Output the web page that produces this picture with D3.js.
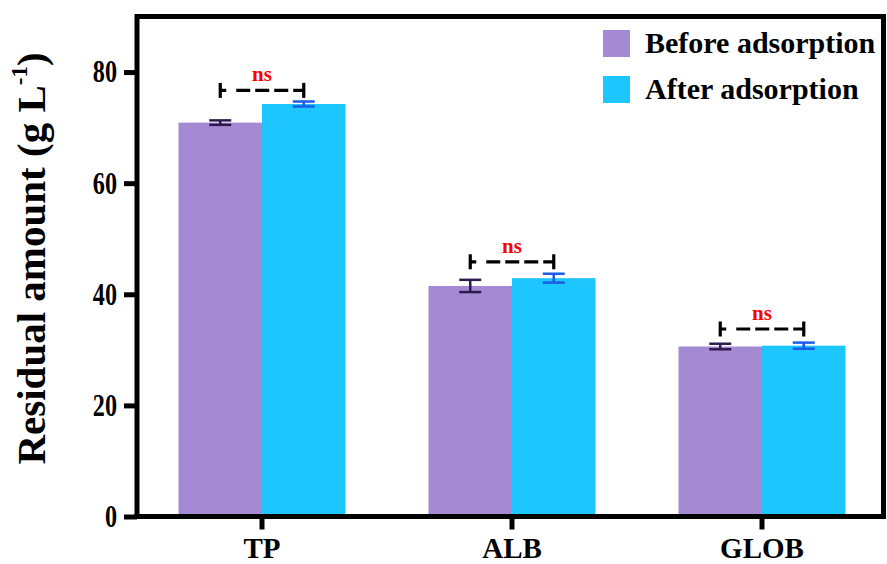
<!DOCTYPE html>
<html>
<head>
<meta charset="utf-8">
<script src="https://cdn.jsdelivr.net/npm/d3@7"></script>
<style>
  html, body { margin: 0; padding: 0; background: #fff; }
  svg { display: block; }
  svg text { font-family: "Liberation Serif", "Times New Roman", serif; }
</style>
</head>
<body>
<svg id="chart" width="887" height="564"></svg>
<script>
// Residual protein amounts before/after adsorption
const categories = ["TP", "ALB", "GLOB"];
const seriesNames = ["Before adsorption", "After adsorption"];
const beforeValues = [70.9, 41.5, 30.6];
const beforeErrors = [0.4, 1.1, 0.5];
const afterValues = [74.25, 42.9, 30.75];
const afterErrors = [0.45, 0.8, 0.55];
const yTicks = [0, 20, 40, 60, 80];
const sigLabels = ["ns", "ns", "ns"];
const sigLevels = [76.7, 45.85, 33.75];

const fills = ["#A48AD2", "#1DC6FE"];
const errColors = ["#2D1B4E", "#1A5CE8"];

const svg = d3.select("#chart");
const plotLeft = 137, plotRight = 887, plotTop = 16.5, plotBottom = 516.5;
const frameRight = 883.5;

const x = d3.scaleBand().domain(categories).range([plotLeft, plotRight])
  .paddingInner(0.332).paddingOuter(0.166);
const sub = d3.scaleBand().domain(seriesNames).range([0, x.bandwidth()]);
const y = d3.scaleLinear().domain([0, 90]).range([plotBottom, plotTop]);

const series = [
  { name: seriesNames[0], values: beforeValues, errors: beforeErrors },
  { name: seriesNames[1], values: afterValues, errors: afterErrors }
];

// bars
series.forEach((s, si) => {
  svg.append("g").selectAll("rect").data(categories).join("rect")
    .attr("x", c => x(c) + sub(s.name))
    .attr("y", (c, i) => y(s.values[i]))
    .attr("width", sub.bandwidth())
    .attr("height", (c, i) => y(0) - y(s.values[i]))
    .attr("fill", fills[si]);
});

// error bars
series.forEach((s, si) => {
  const g = svg.append("g").attr("stroke", errColors[si]).attr("stroke-width", 2.5);
  categories.forEach((c, i) => {
    const cx = x(c) + sub(s.name) + sub.bandwidth() / 2;
    const hi = y(s.values[i] + s.errors[i]), lo = y(s.values[i] - s.errors[i]);
    g.append("line").attr("x1", cx).attr("x2", cx).attr("y1", hi).attr("y2", lo);
    g.append("line").attr("x1", cx - 11).attr("x2", cx + 11).attr("y1", hi).attr("y2", hi);
    g.append("line").attr("x1", cx - 11).attr("x2", cx + 11).attr("y1", lo).attr("y2", lo);
  });
});

// significance brackets
categories.forEach((c, i) => {
  const x1 = x(c) + sub(seriesNames[0]) + sub.bandwidth() / 2;
  const x2 = x(c) + sub(seriesNames[1]) + sub.bandwidth() / 2;
  const yy = y(sigLevels[i]);
  const g = svg.append("g").attr("stroke", "#000").attr("stroke-width", 3.2);
  g.append("line").attr("x1", x1).attr("x2", x2).attr("y1", yy).attr("y2", yy)
    .attr("stroke-dasharray", "6,10,14,5,14,5,14,5,14");
  [x1, x2].forEach(xx => g.append("line").attr("x1", xx).attr("x2", xx)
    .attr("y1", yy - 7.5).attr("y2", yy + 7.5));
  svg.append("text").attr("x", (x1 + x2) / 2).attr("y", yy - 9)
    .attr("text-anchor", "middle").attr("fill", "#FF0000")
    .attr("font-weight", "bold").attr("font-size", 21).text(sigLabels[i]);
});

// frame (top and right)
svg.append("path")
  .attr("d", `M${plotLeft},${plotTop}H${frameRight}V${plotBottom}`)
  .attr("fill", "none").attr("stroke", "#000").attr("stroke-width", 5);

// y axis (labels slightly condensed)
const yLabelScale = 0.78;
const yAxis = svg.append("g").attr("transform", `translate(${plotLeft},0)`)
  .call(d3.axisLeft(y).tickValues(yTicks).tickSize(13).tickPadding(7).tickFormat(d3.format("d")));
yAxis.attr("font-family", null);
yAxis.select(".domain").attr("stroke-width", 5).attr("d", `M0,${plotTop - 2.5}V${plotBottom + 2.5}`);
yAxis.selectAll(".tick line").attr("stroke-width", 5);
yAxis.selectAll(".tick text").attr("font-size", 31).attr("font-weight", "bold").attr("fill", "#000")
  .attr("x", -20 / yLabelScale).attr("transform", `scale(${yLabelScale},1)`);

// x axis
const xAxis = svg.append("g").attr("transform", `translate(0,${plotBottom})`)
  .call(d3.axisBottom(x).tickSize(13).tickPadding(8));
xAxis.attr("font-family", null);
xAxis.select(".domain").attr("stroke-width", 5).attr("d", `M${plotLeft - 2.5},0H${frameRight + 2.5}`);
xAxis.selectAll(".tick line").attr("stroke-width", 5);
xAxis.selectAll(".tick text").attr("font-size", 29).attr("font-weight", "bold").attr("fill", "#000");

// y axis title
const title = svg.append("text")
  .attr("transform", `translate(45,258.5) rotate(-90)`)
  .attr("text-anchor", "middle").attr("font-size", 41).attr("font-weight", "bold");
title.append("tspan").text("Residual amount (g L");
title.append("tspan").attr("dy", -18).attr("font-size", 23).text("-1");
title.append("tspan").attr("dy", 18).text(")");

// legend
const legend = svg.append("g");
series.forEach((s, si) => {
  const ly = 30 + si * 46;
  legend.append("rect").attr("x", 603).attr("y", ly).attr("width", 27).attr("height", 27)
    .attr("fill", fills[si]);
  legend.append("text").attr("x", 645).attr("y", ly + 23)
    .attr("font-size", 30).attr("font-weight", "bold").text(s.name);
});
</script>
</body>
</html>
